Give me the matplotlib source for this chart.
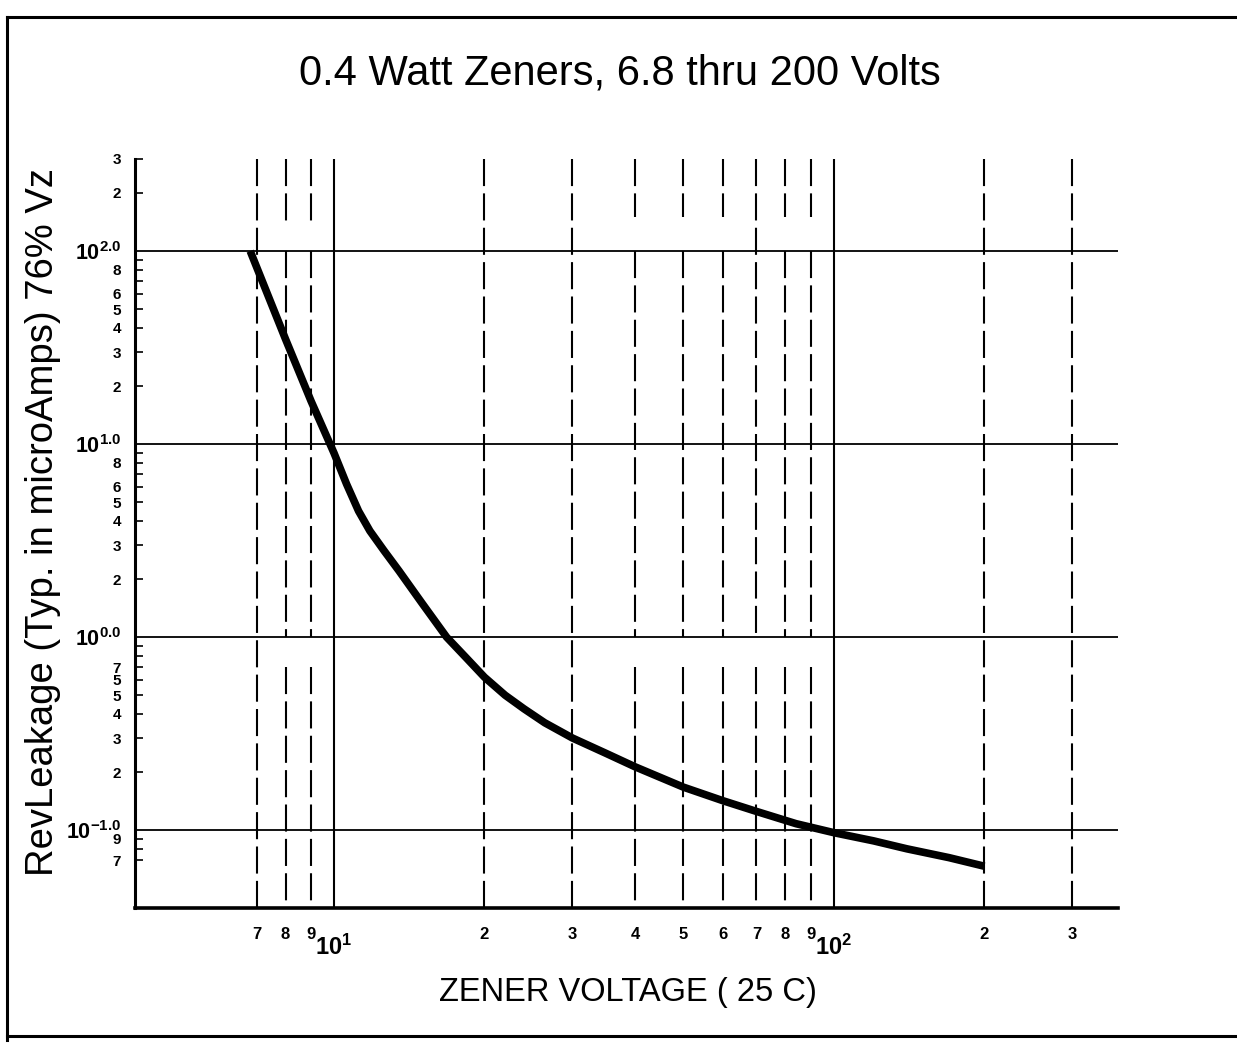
import matplotlib
matplotlib.use('Agg')
import matplotlib.pyplot as plt
from matplotlib.ticker import FixedLocator, FixedFormatter
from matplotlib.lines import Line2D

# ---- data ----
voltage = [6.8, 8, 9, 10, 10.6, 11.2, 11.8, 12.6, 13.5, 15, 16.8, 18.4, 20,
           22, 24, 26.4, 30, 35, 40, 50, 60, 70, 84, 100, 120, 140, 170, 200]
leakage = [100, 35, 16.7, 9.0, 6.2, 4.5, 3.55, 2.8, 2.2, 1.5, 1.0, 0.78, 0.62,
           0.50, 0.425, 0.36, 0.30, 0.25, 0.213, 0.167, 0.142, 0.125, 0.108, 0.097,
           0.088, 0.080, 0.072, 0.065]

x_major = [10, 100]
x_major_labels = [r'$\mathbf{10^1}$', r'$\mathbf{10^2}$']
x_minor = [7, 8, 9, 20, 30, 40, 50, 60, 70, 80, 90, 200, 300]
x_minor_labels = ['7', '8', '9', '2', '3', '4', '5', '6', '7', '8', '9', '2', '3']

y_major = [0.1, 1, 10, 100]
y_major_labels = [r'$\mathbf{10^{-1.0}}$', r'$\mathbf{10^{0.0}}$', r'$\mathbf{10^{1.0}}$', r'$\mathbf{10^{2.0}}$']
y_minor = [0.07, 0.08, 0.09,
           0.2, 0.3, 0.4, 0.5, 0.6, 0.7, 0.8, 0.9,
           2, 3, 4, 5, 6, 7, 8, 9,
           20, 30, 40, 50, 60, 70, 80, 90,
           200, 300]
y_minor_labels = ['7', '', '9',
                  '2', '3', '4', '5', '5', '7', '', '',
                  '2', '3', '4', '5', '6', '', '8', '',
                  '2', '3', '4', '5', '6', '', '8', '',
                  '2', '3']

# breaks in the printed dashed grid lines (grid line x, gap from y, gap to y)
grid_breaks = [(8, 100, 142), (9, 100, 142),
               (40, 100, 150), (50, 100, 150), (60, 100, 150), (80, 100, 150), (90, 100, 150),
               (8, 0.70, 1.0), (9, 0.70, 1.0),
               (40, 0.70, 1.0), (50, 0.70, 1.0), (60, 0.70, 1.0), (70, 0.70, 1.0),
               (80, 0.70, 1.0), (90, 0.70, 1.0)]

title_text = '0.4 Watt Zeners, 6.8 thru 200 Volts'
xlabel_text = 'ZENER VOLTAGE ( 25 C)'
ylabel_text = 'RevLeakage (Typ. in microAmps) 76% Vz'

# ---- style ----
plt.rcParams['font.family'] = ['Liberation Sans', 'DejaVu Sans']
plt.rcParams['mathtext.fontset'] = 'custom'
plt.rcParams['mathtext.rm'] = 'Liberation Sans'
plt.rcParams['mathtext.bf'] = 'Liberation Sans:bold'
plt.rcParams['mathtext.it'] = 'Liberation Sans:italic'

W, H = 1237, 1046
fig = plt.figure(figsize=(W / 100, H / 100), dpi=100)
fig.patch.set_facecolor('white')

# axes box (pixel geometry from the reference)
L, R, T, B = 135, 1118, 159, 908
ax = fig.add_axes([L / W, 1 - B / H, (R - L) / W, (B - T) / H])
ax.set_xscale('log')
ax.set_yscale('log')
ymin, ymax = 0.0395, 300
ax.set_xlim(4.0, 370)
ax.set_ylim(ymin, ymax)

for s in ['top', 'right']:
    ax.spines[s].set_visible(False)
ax.spines['left'].set_linewidth(2.2)
ax.spines['bottom'].set_linewidth(2.6)

# ticks
ax.xaxis.set_major_locator(FixedLocator(x_major))
ax.xaxis.set_major_formatter(FixedFormatter(x_major_labels))
ax.xaxis.set_minor_locator(FixedLocator(x_minor))
ax.xaxis.set_minor_formatter(FixedFormatter(x_minor_labels))
ax.yaxis.set_major_locator(FixedLocator(y_major))
ax.yaxis.set_major_formatter(FixedFormatter(y_major_labels))
ax.yaxis.set_minor_locator(FixedLocator(y_minor))
ax.yaxis.set_minor_formatter(FixedFormatter(y_minor_labels))

ax.tick_params(axis='x', which='both', length=0)
ax.tick_params(axis='x', which='minor', labelsize=12, pad=14)
ax.tick_params(axis='x', which='major', labelsize=17, pad=19)
ax.tick_params(axis='y', which='major', length=0, labelsize=15.5, pad=10)
ax.tick_params(axis='y', which='minor', direction='in', length=6, width=1.2,
               labelsize=11, pad=10)
for lab in ax.get_xticklabels(minor=True) + ax.get_yticklabels(minor=True):
    lab.set_fontweight('bold')

# grid: solid decade lines
ax.xaxis.grid(True, which='major', color='black', linestyle='-', linewidth=1.5)
ax.yaxis.grid(True, which='major', color='black', linestyle='-', linewidth=1.3)
ax.xaxis.grid(False, which='minor')
ax.yaxis.grid(False, which='minor')

# grid: dashed minor vertical lines, with the breaks seen in the print
dash = (0, (13, 3.5))
for xv in x_minor:
    cuts = sorted((lo, hi) for (gx, lo, hi) in grid_breaks if gx == xv)
    top = ymax
    for lo, hi in reversed(cuts):
        ax.plot([xv, xv], [top, hi], color='black', linestyle=dash, linewidth=1.5,
                zorder=1, clip_on=True)
        top = lo
    ax.plot([xv, xv], [top, ymin], color='black', linestyle=dash, linewidth=1.5,
            zorder=1, clip_on=True)

# curve
ax.plot(voltage, leakage, color='black', linewidth=5.5, solid_capstyle='butt',
        solid_joinstyle='round', zorder=5)

# texts
fig.text(620 / W, 1 - 73 / H, title_text, ha='center', va='center', fontsize=30)
fig.text(628 / W, 1 - 993 / H, xlabel_text, ha='center', va='center', fontsize=23.5)
fig.text(43 / W, 1 - 522 / H, ylabel_text, ha='center', va='center',
         fontsize=27.5, rotation=90)

# outer frame of the scanned page
frame_kw = dict(color='black', linewidth=2.2, transform=fig.transFigure)
fig.add_artist(Line2D([7 / W, 1.0], [1 - 17 / H, 1 - 17 / H], **frame_kw))
fig.add_artist(Line2D([7 / W, 7 / W], [1 - 17 / H, 1 - 1040 / H], **frame_kw))
fig.add_artist(Line2D([7 / W, 1.0], [1 - 1036 / H, 1 - 1036 / H], **frame_kw))

fig.savefig('out.png', dpi=100, facecolor='white')
